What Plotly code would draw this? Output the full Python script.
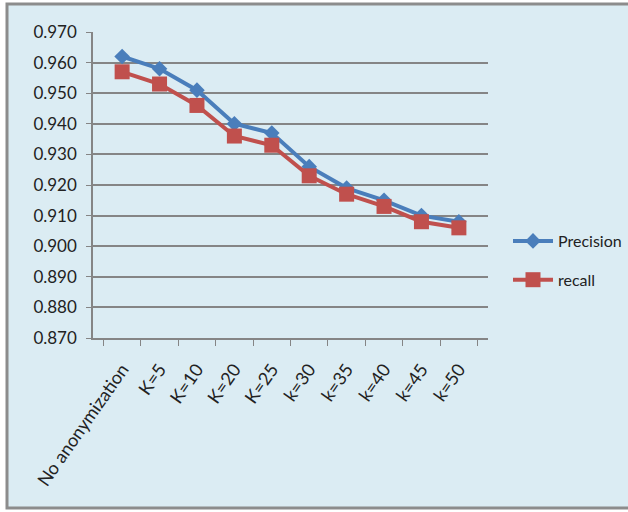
import plotly.graph_objects as go

# Category labels and the two series
categories = ["No anonymization", "K=5", "K=10", "K=20", "K=25",
              "k=30", "k=35", "k=40", "k=45", "k=50"]
precision = [0.962, 0.958, 0.951, 0.940, 0.937, 0.926, 0.919, 0.915, 0.910, 0.908]
recall = [0.957, 0.953, 0.946, 0.936, 0.933, 0.923, 0.917, 0.913, 0.908, 0.906]
y_ticks = [0.870, 0.880, 0.890, 0.900, 0.910, 0.920, 0.930, 0.940, 0.950, 0.960, 0.970]

W, H = 628, 512
ML, MR, MT, MB = 93, 140, 32, 174
PW, PH = W - ML - MR, H - MT - MB

BG = "#dbecf3"
GRID = "#858585"
FONT = "Lato, Roboto, sans-serif"


def px_x(x):
    return (x - ML) / PW


def px_y(y):
    return (H - MB - y) / PH


fig = go.Figure()
fig.add_trace(go.Scatter(
    x=categories, y=precision, name="Precision", mode="lines+markers",
    line=dict(color="#4a7ebb", width=4),
    marker=dict(symbol="diamond", size=12, color="#4a7ebb"),
    legendgroup="p",
))
fig.add_trace(go.Scatter(
    x=categories, y=recall, name="recall", mode="lines+markers",
    line=dict(color="#c0504d", width=4),
    marker=dict(symbol="square", size=15, color="#c0504d"),
    legendgroup="r",
))

# Chart frame behind the plot
fig.add_shape(type="rect", xref="paper", yref="paper",
              x0=px_x(7), x1=px_x(640), y0=px_y(508), y1=px_y(4),
              line=dict(color="#8c8c8c", width=3), fillcolor=BG, layer="below")

fig.update_layout(
    width=W, height=H,
    margin=dict(l=ML, r=MR, t=MT, b=MB, autoexpand=False),
    paper_bgcolor="white", plot_bgcolor=BG,
    font=dict(family=FONT, size=16, color="#222222"),
    showlegend=True,
    legend=dict(x=px_x(508), y=px_y(224), xanchor="left", yanchor="top",
                bgcolor="rgba(0,0,0,0)", font=dict(size=16, color="#222222"),
                traceorder="grouped", tracegroupgap=15, itemwidth=40),
    xaxis=dict(
        type="category", tickangle=-55, showgrid=False,
        showline=True, linecolor=GRID, linewidth=1.5,
        ticks="outside", tickson="boundaries", ticklen=6, tickcolor=GRID,
        ticklabelstandoff=12,
        tickfont=dict(size=18, color="#222222"),
    ),
    yaxis=dict(
        range=[0.870, 0.970], tickvals=y_ticks, tickformat=".3f",
        showgrid=True, gridcolor=GRID, gridwidth=1.5,
        showline=True, linecolor=GRID, linewidth=1.5,
        ticks="outside", ticklen=5, tickcolor=GRID, zeroline=False,
        ticklabelstandoff=6,
        tickfont=dict(size=17, color="#222222"),
    ),
)

fig.write_html("out.html")
